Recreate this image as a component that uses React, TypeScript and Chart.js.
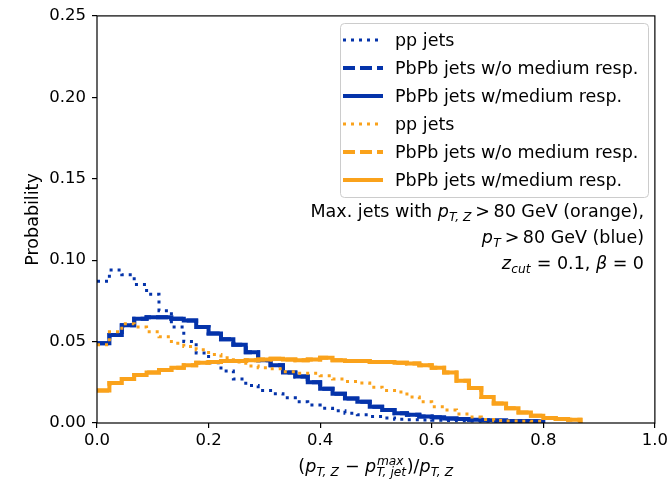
import React, { useEffect, useRef } from 'react';
import { Chart, registerables } from 'chart.js';

Chart.register(...registerables);

// ---------- data ----------
const BIN_WIDTH = 1 / 45;
const X_TICKS = [0, 0.2, 0.4, 0.6, 0.8, 1.0];
const Y_TICKS = [0, 0.05, 0.1, 0.15, 0.2, 0.25];

const SERIES_LABELS = [
  'pp jets',
  'PbPb jets w/o medium resp.',
  'PbPb jets w/medium resp.',
  'pp jets',
  'PbPb jets w/o medium resp.',
  'PbPb jets w/medium resp.',
];

const BLUE_PP = [
  0.087, 0.094, 0.091, 0.085, 0.079, 0.069, 0.059, 0.05, 0.043, 0.037,
  0.032, 0.027, 0.023, 0.02, 0.018, 0.0155, 0.013, 0.011, 0.009, 0.0075,
  0.006, 0.005, 0.004, 0.003, 0.0023, 0.002, 0.0018, 0.0017, 0.0015, 0.0014,
  0.0013, 0.0012, 0.0011, 0.001, 0.001, 0.001,
];

const BLUE_PBPB_MED = [
  0.049, 0.054, 0.06, 0.064, 0.065, 0.065, 0.064, 0.063, 0.059, 0.055,
  0.0515, 0.048, 0.0435, 0.0385, 0.0355, 0.031, 0.0285, 0.025, 0.021, 0.018,
  0.015, 0.013, 0.01, 0.008, 0.006, 0.005, 0.004, 0.0035, 0.0028, 0.0025,
  0.002, 0.0017, 0.0015, 0.0013, 0.0012, 0.001,
];

const BLUE_PBPB_NO_MED = [
  0.049, 0.054, 0.06, 0.064, 0.065, 0.065, 0.064, 0.063, 0.059, 0.055,
  0.0515, 0.048, 0.0435, 0.0385, 0.0355, 0.031, 0.0285, 0.025, 0.021, 0.018,
  0.015, 0.013, 0.01, 0.008, 0.006, 0.005, 0.004, 0.0035, 0.0028, 0.0025,
  0.002, 0.0017, 0.0015, 0.0013, 0.0012, 0.001,
];

const ORANGE_PP = [
  0.048, 0.056, 0.061, 0.059, 0.056, 0.053, 0.049, 0.047, 0.045, 0.042,
  0.04, 0.0375, 0.035, 0.034, 0.0333, 0.0315, 0.0305, 0.0305, 0.029, 0.027,
  0.0255, 0.0245, 0.022, 0.02, 0.019, 0.016, 0.013, 0.01, 0.008, 0.0055,
  0.0037, 0.0022, 0.0016, 0.0013, 0.0011, 0.001,
];

const ORANGE_PBPB_MED = [
  0.02, 0.0245, 0.027, 0.0295, 0.031, 0.0325, 0.034, 0.0355, 0.037, 0.0375,
  0.038, 0.038, 0.0385, 0.039, 0.0395, 0.039, 0.0385, 0.039, 0.04, 0.0385,
  0.038, 0.038, 0.0375, 0.0375, 0.037, 0.0365, 0.0355, 0.034, 0.031, 0.026,
  0.0215, 0.016, 0.012, 0.009, 0.0065, 0.0045, 0.003, 0.0025, 0.002,
];

const ORANGE_PBPB_NO_MED = [
  0.02, 0.0245, 0.027, 0.0295, 0.031, 0.0325, 0.034, 0.0355, 0.037, 0.0375,
  0.038, 0.038, 0.0385, 0.039, 0.0395, 0.039, 0.0385, 0.039, 0.04, 0.0385,
  0.038, 0.038, 0.0375, 0.0375, 0.037, 0.0365, 0.0355, 0.034, 0.031, 0.026,
  0.0215, 0.016, 0.012, 0.009, 0.0065, 0.0045, 0.003, 0.0025, 0.002,
];

// ---------- styles ----------
const BLUE = '#0433aa';
const ORANGE = '#faa21b';
const FAMILY = '"DejaVu Sans", "Liberation Sans", sans-serif';
const TICK_SIZE = 16.5;
const TEXT_SIZE = 17.5;

type Seg = { t?: string; it?: boolean; sub?: string; sup?: string };

const X_TITLE: Seg[] = [
  { t: '(' }, { t: 'p', it: true }, { sub: 'T, Z' }, { t: ' \u2212 ' },
  { t: 'p', it: true }, { sup: 'max', sub: 'T, jet' }, { t: ')/' },
  { t: 'p', it: true }, { sub: 'T, Z' },
];
const NOTE_LINES: Seg[][] = [
  [{ t: 'Max. jets with ' }, { t: 'p', it: true }, { sub: 'T, Z' }, { t: '\u2009>\u200980 GeV (orange),' }],
  [{ t: 'p', it: true }, { sub: 'T' }, { t: '\u2009>\u200980 GeV (blue)' }],
  [{ t: 'z', it: true }, { sub: 'cut' }, { t: ' = 0.1, ' }, { t: '\u03b2', it: true }, { t: ' = 0' }],
];

function drawRich(ctx: CanvasRenderingContext2D, segs: Seg[], x: number, y: number, size: number, align: 'left' | 'right' | 'center') {
  const ss = size * 0.7;
  const widths = segs.map((s) => {
    if (s.t !== undefined) {
      ctx.font = `${s.it ? 'italic ' : ''}${size}px ${FAMILY}`;
      return ctx.measureText(s.t).width;
    }
    ctx.font = `italic ${ss}px ${FAMILY}`;
    const a = s.sub ? ctx.measureText(s.sub).width : 0;
    const b = s.sup ? ctx.measureText(s.sup).width : 0;
    return Math.max(a, b) + size * 0.05;
  });
  const total = widths.reduce((a, b) => a + b, 0);
  let cx = align === 'right' ? x - total : align === 'center' ? x - total / 2 : x;
  ctx.textAlign = 'left';
  ctx.textBaseline = 'alphabetic';
  ctx.fillStyle = '#000';
  segs.forEach((s, i) => {
    if (s.t !== undefined) {
      ctx.font = `${s.it ? 'italic ' : ''}${size}px ${FAMILY}`;
      ctx.fillText(s.t, cx, y);
    } else {
      ctx.font = `italic ${ss}px ${FAMILY}`;
      if (s.sub) ctx.fillText(s.sub, cx + size * 0.02, y + size * 0.24);
      if (s.sup) ctx.fillText(s.sup, cx + size * 0.04, y - size * 0.42);
    }
    cx += widths[i];
  });
}

function toPoints(values: number[]) {
  const pts = values.map((v, i) => ({ x: i * BIN_WIDTH, y: v }));
  pts.push({ x: values.length * BIN_WIDTH, y: 0 });
  return pts;
}

const DOT = [3, 5];
const DASH = [12, 5];

const decorPlugin = {
  id: 'decor',
  afterDatasetsDraw(chart: any) {
    const { ctx, chartArea: a } = chart;
    ctx.save();
    // frame (spines)
    ctx.strokeStyle = '#000';
    ctx.lineWidth = 1.2;
    ctx.setLineDash([]);
    ctx.strokeRect(a.left, a.top, a.right - a.left, a.bottom - a.top);

    // legend box
    const lx = 340.5, ly = 23.5, lw = 308, lh = 174, r = 4;
    ctx.beginPath();
    ctx.moveTo(lx + r, ly);
    ctx.arcTo(lx + lw, ly, lx + lw, ly + lh, r);
    ctx.arcTo(lx + lw, ly + lh, lx, ly + lh, r);
    ctx.arcTo(lx, ly + lh, lx, ly, r);
    ctx.arcTo(lx, ly, lx + lw, ly, r);
    ctx.closePath();
    ctx.fillStyle = 'rgba(255,255,255,0.8)';
    ctx.fill();
    ctx.strokeStyle = '#cccccc';
    ctx.lineWidth = 1;
    ctx.stroke();

    chart.data.datasets.forEach((ds: any, i: number) => {
      const y = 40 + i * 28;
      ctx.beginPath();
      ctx.setLineDash(ds.borderDash || []);
      ctx.strokeStyle = ds.borderColor;
      ctx.lineWidth = ds.borderWidth;
      ctx.moveTo(343, y);
      ctx.lineTo(383, y);
      ctx.stroke();
      ctx.setLineDash([]);
      ctx.font = `${TEXT_SIZE}px ${FAMILY}`;
      ctx.fillStyle = '#000';
      ctx.textAlign = 'left';
      ctx.textBaseline = 'middle';
      ctx.fillText(ds.label, 395, y + 1);
    });

    // annotation
    drawRich(ctx, NOTE_LINES[0], 644, 216.5, TEXT_SIZE, 'right');
    drawRich(ctx, NOTE_LINES[1], 644, 243, TEXT_SIZE, 'right');
    drawRich(ctx, NOTE_LINES[2], 644, 268.5, TEXT_SIZE, 'right');

    // x title
    drawRich(ctx, X_TITLE, (a.left + a.right) / 2, 472, TEXT_SIZE, 'center');
    ctx.restore();
  },
};

export default function App() {
  const ref = useRef<HTMLCanvasElement | null>(null);

  useEffect(() => {
    if (!ref.current) return;
    const series = [
      { label: SERIES_LABELS[0], data: BLUE_PP, color: BLUE, dash: DOT, width: 3 },
      { label: SERIES_LABELS[1], data: BLUE_PBPB_NO_MED, color: BLUE, dash: DASH, width: 4 },
      { label: SERIES_LABELS[2], data: BLUE_PBPB_MED, color: BLUE, dash: [] as number[], width: 4 },
      { label: SERIES_LABELS[3], data: ORANGE_PP, color: ORANGE, dash: DOT, width: 3 },
      { label: SERIES_LABELS[4], data: ORANGE_PBPB_NO_MED, color: ORANGE, dash: DASH, width: 4 },
      { label: SERIES_LABELS[5], data: ORANGE_PBPB_MED, color: ORANGE, dash: [] as number[], width: 4 },
    ];
    const chart = new Chart(ref.current, {
      type: 'line',
      data: {
        datasets: series.map((s, i) => ({
          label: s.label,
          data: toPoints(s.data),
          borderColor: s.color,
          backgroundColor: s.color,
          borderDash: s.dash,
          borderWidth: s.width,
          stepped: true,
          pointRadius: 0,
          fill: false,
          order: series.length - 1 - i,
        })),
      },
      options: {
        animation: false,
        responsive: false,
        devicePixelRatio: 1,
        parsing: false as any,
        layout: { padding: { left: 0, right: 14, top: 15, bottom: 0 } },
        plugins: { legend: { display: false }, tooltip: { enabled: false } },
        scales: {
          x: {
            type: 'linear',
            min: 0,
            max: 1,
            afterBuildTicks: (s: any) => { s.ticks = X_TICKS.map((v) => ({ value: v })); },
            afterFit: (s: any) => { s.height = 58; },
            ticks: {
              callback: (v: any) => Number(v).toFixed(1),
              font: { family: FAMILY, size: TICK_SIZE },
              color: '#000',
              padding: 3,
              maxRotation: 0,
              autoSkip: false,
            },
            grid: { drawOnChartArea: false, drawTicks: true, tickLength: 5, color: '#000', lineWidth: 1.2 },
            border: { display: false },
          },
          y: {
            type: 'linear',
            min: 0,
            max: 0.25,
            afterBuildTicks: (s: any) => { s.ticks = Y_TICKS.map((v) => ({ value: v })); },
            afterFit: (s: any) => { s.width = 97; },
            ticks: {
              callback: (v: any) => Number(v).toFixed(2),
              font: { family: FAMILY, size: TICK_SIZE },
              color: '#000',
              padding: 6,
              autoSkip: false,
            },
            grid: { drawOnChartArea: false, drawTicks: true, tickLength: 5, color: '#000', lineWidth: 1.2 },
            border: { display: false },
            title: {
              display: true,
              text: 'Probability',
              color: '#000',
              font: { family: FAMILY, size: TEXT_SIZE },
              padding: { top: 22.5, bottom: 0 },
            },
          },
        },
      },
      plugins: [decorPlugin],
    } as any);
    return () => chart.destroy();
  }, []);

  return (
    <div style={{ position: 'fixed', left: 0, top: 0, width: 671, height: 481, background: '#fff' }}>
      <canvas ref={ref} width={671} height={481} style={{ display: 'block', width: 671, height: 481 }} />
    </div>
  );
}
